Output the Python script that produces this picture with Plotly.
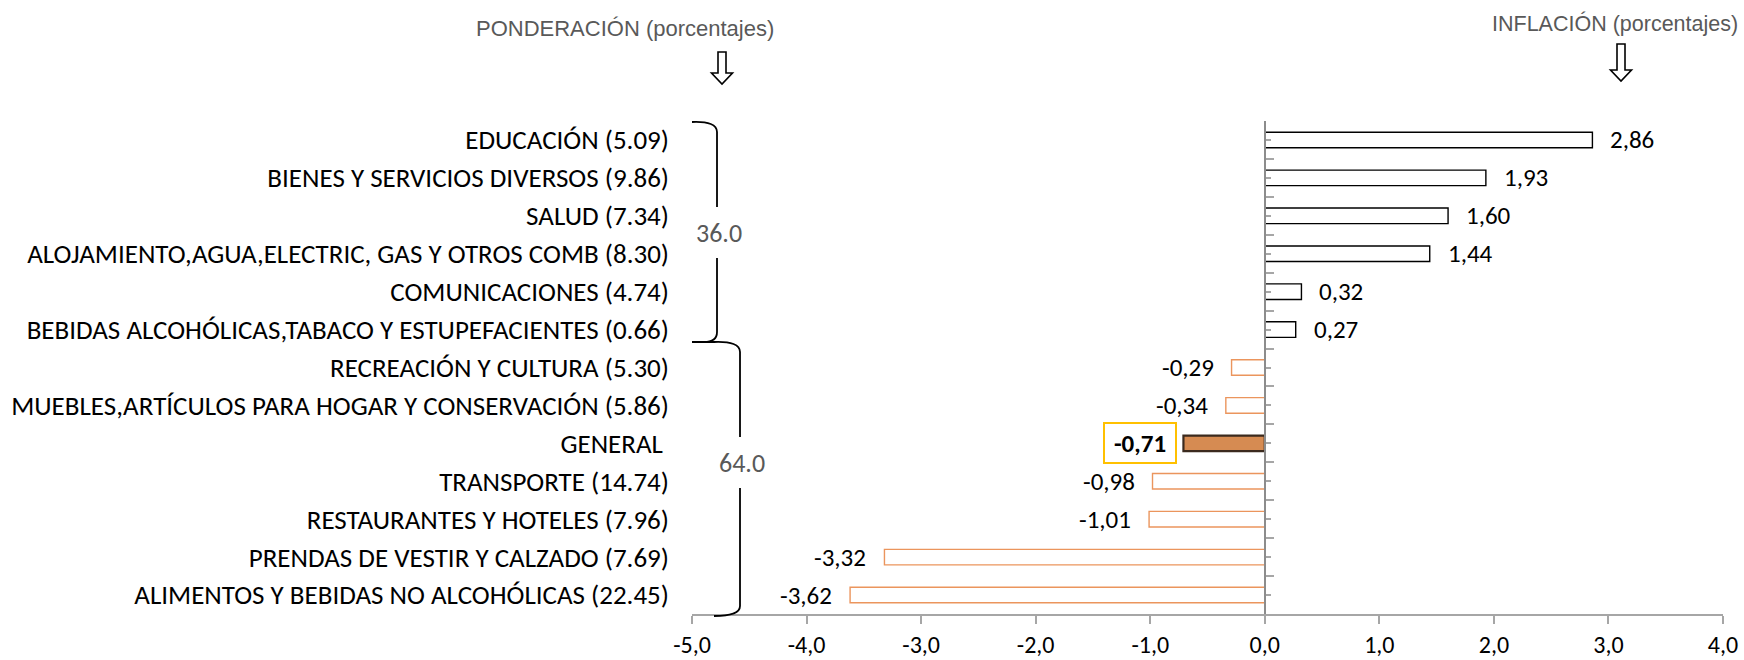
import plotly.graph_objects as go

# ---------------- data ----------------
names = [
    "EDUCACIÓN",
    "BIENES Y SERVICIOS DIVERSOS",
    "SALUD",
    "ALOJAMIENTO,AGUA,ELECTRIC, GAS Y OTROS COMB",
    "COMUNICACIONES",
    "BEBIDAS ALCOHÓLICAS,TABACO Y ESTUPEFACIENTES",
    "RECREACIÓN Y CULTURA",
    "MUEBLES,ARTÍCULOS PARA HOGAR Y CONSERVACIÓN",
    "GENERAL",
    "TRANSPORTE",
    "RESTAURANTES Y HOTELES",
    "PRENDAS DE VESTIR Y CALZADO",
    "ALIMENTOS Y BEBIDAS NO ALCOHÓLICAS",
]
weights = [5.09, 9.86, 7.34, 8.30, 4.74, 0.66, 5.30, 5.86, None, 14.74, 7.96, 7.69, 22.45]
inflation = [2.86, 1.93, 1.60, 1.44, 0.32, 0.27, -0.29, -0.34, -0.71, -0.98, -1.01, -3.32, -3.62]
group_a = names[:6]      # positive-inflation group
group_b = names[6:]      # negative-inflation group
x_ticks = [-5, -4, -3, -2, -1, 0, 1, 2, 3, 4]
x_tick_text = ["-5,0", "-4,0", "-3,0", "-2,0", "-1,0", "0,0", "1,0", "2,0", "3,0", "4,0"]
total_name = "GENERAL"

# ---------------- layout constants ----------------
W, H = 1744, 660
L, R, T, B = 692, 1723, 121, 614          # plot area in pixels
FONT = "Carlito, Calibri, Lato, sans-serif"
TITLE_FONT = "Liberation Sans, Arial, sans-serif"
ORANGE = "#EB955D"
GEN_FILL = "#D68B52"


def px(xp):
    return (xp - L) / (R - L)


def py(yp):
    return (B - yp) / (B - T)


categories = [
    (f"{n} ({w:.2f})" if w is not None else n + "\u00a0") for n, w in zip(names, weights)
]

fill_colors = [GEN_FILL if n == total_name else "white" for n in names]
line_colors = [
    "#3B2A1E" if n == total_name else ("black" if v >= 0 else ORANGE)
    for n, v in zip(names, inflation)
]
line_widths = [2.2 if n == total_name else 1.4 for n in names]

fig = go.Figure()
fig.add_trace(go.Bar(
    x=inflation, y=categories, orientation="h", width=0.41,
    marker=dict(color=fill_colors, line=dict(color=line_colors, width=line_widths)),
    hoverinfo="skip", showlegend=False,
))
# invisible helper traces so that the axis at zero can carry its ticks
fig.add_trace(go.Scatter(x=[0] * len(categories), y=categories, yaxis="y2", mode="markers",
                         marker=dict(opacity=0), hoverinfo="skip", showlegend=False))
fig.add_trace(go.Scatter(x=[0] * len(categories), y=categories, yaxis="y3", mode="markers",
                         marker=dict(opacity=0), hoverinfo="skip", showlegend=False))

zero_pos = (0 - x_ticks[0]) / (x_ticks[-1] - x_ticks[0])

annotations = []
# value labels
for n, c, v in zip(names, categories, inflation):
    txt = f"{v:.2f}".replace(".", ",")
    if n == total_name:
        annotations.append(dict(
            x=v, y=c, xref="x", yref="y", text=f"<b>{txt}</b>", showarrow=False,
            xanchor="right", yanchor="middle", xshift=-6, width=66, height=34, align="center",
            font=dict(family=FONT, size=25, color="black"),
            bordercolor="#FFC000", borderwidth=2, borderpad=2, bgcolor="white"))
    else:
        annotations.append(dict(
            x=v, y=c, xref="x", yref="y", text=txt, showarrow=False,
            xanchor="left" if v >= 0 else "right", yanchor="middle",
            xshift=16 if v >= 0 else -16,
            font=dict(family=FONT, size=25, color="black")))

# group totals of the weights
sum_a = sum(w for n, w in zip(names, weights) if n in group_a and w is not None)
sum_b = sum(w for n, w in zip(names, weights) if n in group_b and w is not None)
annotations.append(dict(x=px(719), y=py(233), xref="paper", yref="paper", text=f"{sum_a:.1f}",
                        showarrow=False, xanchor="center", yanchor="middle",
                        font=dict(family=FONT, size=26, color="#595959")))
annotations.append(dict(x=px(742), y=py(463), xref="paper", yref="paper", text=f"{sum_b:.1f}",
                        showarrow=False, xanchor="center", yanchor="middle",
                        font=dict(family=FONT, size=26, color="#595959")))

# headings
annotations.append(dict(x=px(625), y=py(28), xref="paper", yref="paper",
                        text="PONDERACIÓN (porcentajes)", showarrow=False,
                        xanchor="center", yanchor="middle",
                        font=dict(family=TITLE_FONT, size=22, color="#595959")))
annotations.append(dict(x=px(1615), y=py(23), xref="paper", yref="paper",
                        text="INFLACIÓN (porcentajes)", showarrow=False,
                        xanchor="center", yanchor="middle",
                        font=dict(family=TITLE_FONT, size=21.5, color="#595959")))


def arrow_path(cx, top, bottom, stem=8, head=21, head_h=11):
    hs, hh = stem / 2, head / 2
    pts = [(cx - hs, top), (cx + hs, top), (cx + hs, bottom - head_h), (cx + hh, bottom - head_h),
           (cx, bottom), (cx - hh, bottom - head_h), (cx - hs, bottom - head_h)]
    return "M " + " L ".join(f"{px(a):.5f},{py(b):.5f}" for a, b in pts) + " Z"


def pth(cmds):
    out = []
    for c in cmds:
        if isinstance(c, str):
            out.append(c)
        else:
            out.append(f"{px(c[0]):.5f},{py(c[1]):.5f}")
    return " ".join(out)


shapes = [
    dict(type="path", xref="paper", yref="paper", path=arrow_path(722, 52, 84),
         line=dict(color="black", width=1.6), fillcolor="white"),
    dict(type="path", xref="paper", yref="paper", path=arrow_path(1621, 44, 81),
         line=dict(color="black", width=1.6), fillcolor="white"),
    # brace 1
    dict(type="path", xref="paper", yref="paper",
         path=pth(["M", (692, 122), "Q", (717, 121), (717, 132), "L", (717, 207)]),
         line=dict(color="black", width=1.8)),
    dict(type="path", xref="paper", yref="paper",
         path=pth(["M", (717, 258), "L", (717, 332), "Q", (717, 342), (704, 342), "L", (692, 342)]),
         line=dict(color="black", width=1.8)),
    # brace 2
    dict(type="path", xref="paper", yref="paper",
         path=pth(["M", (704, 342), "L", (714, 342), "Q", (740, 341), (740, 352), "L", (740, 437)]),
         line=dict(color="black", width=1.8)),
    dict(type="path", xref="paper", yref="paper",
         path=pth(["M", (740, 488), "L", (740, 606), "Q", (740, 616), (714, 616)]),
         line=dict(color="black", width=1.8)),
]

yrange = [len(categories) - 0.5, -0.5]
fig.update_layout(
    width=W, height=H,
    margin=dict(l=L, r=W - R, t=T, b=H - B, pad=0, autoexpand=False),
    paper_bgcolor="white", plot_bgcolor="white",
    bargap=0.59,
    xaxis=dict(range=[x_ticks[0], x_ticks[-1]], tickvals=x_ticks, ticktext=x_tick_text,
               automargin=False,
               showgrid=False, zeroline=False, showline=True, linecolor="#A6A6A6", linewidth=2,
               ticks="outside", ticklen=8, tickcolor="#A6A6A6", tickwidth=1.5,
               tickfont=dict(family=FONT, size=24, color="black"), fixedrange=True),
    yaxis=dict(type="category", categoryorder="array", categoryarray=categories, range=yrange,
               automargin=False,
               showgrid=False, zeroline=False, showline=False, ticks="",
               tickfont=dict(family=FONT, size=27, color="black"), ticklabelstandoff=22,
               fixedrange=True),
    yaxis2=dict(type="category", categoryorder="array", categoryarray=categories, range=yrange,
                overlaying="y", anchor="free", position=zero_pos, side="left", automargin=False,
                showgrid=False, zeroline=False, showline=True, linecolor="#8C8C8C", linewidth=2,
                ticks="inside", tickson="boundaries", ticklen=8, tickcolor="#A6A6A6", tickwidth=1.5,
                showticklabels=False, fixedrange=True),
    yaxis3=dict(type="category", categoryorder="array", categoryarray=categories, range=yrange,
                overlaying="y", anchor="free", position=zero_pos, side="left", automargin=False,
                showgrid=False, zeroline=False, showline=False,
                ticks="inside", tickson="labels", ticklen=5, tickcolor="#A6A6A6", tickwidth=1.5,
                showticklabels=False, fixedrange=True),
    annotations=annotations,
    shapes=shapes,
)

# remove the browser's default 8px body margin so the figure sits at the page origin
fig.write_html("out.html", config={"displayModeBar": False},
               post_script="document.body.style.margin='0px';")
